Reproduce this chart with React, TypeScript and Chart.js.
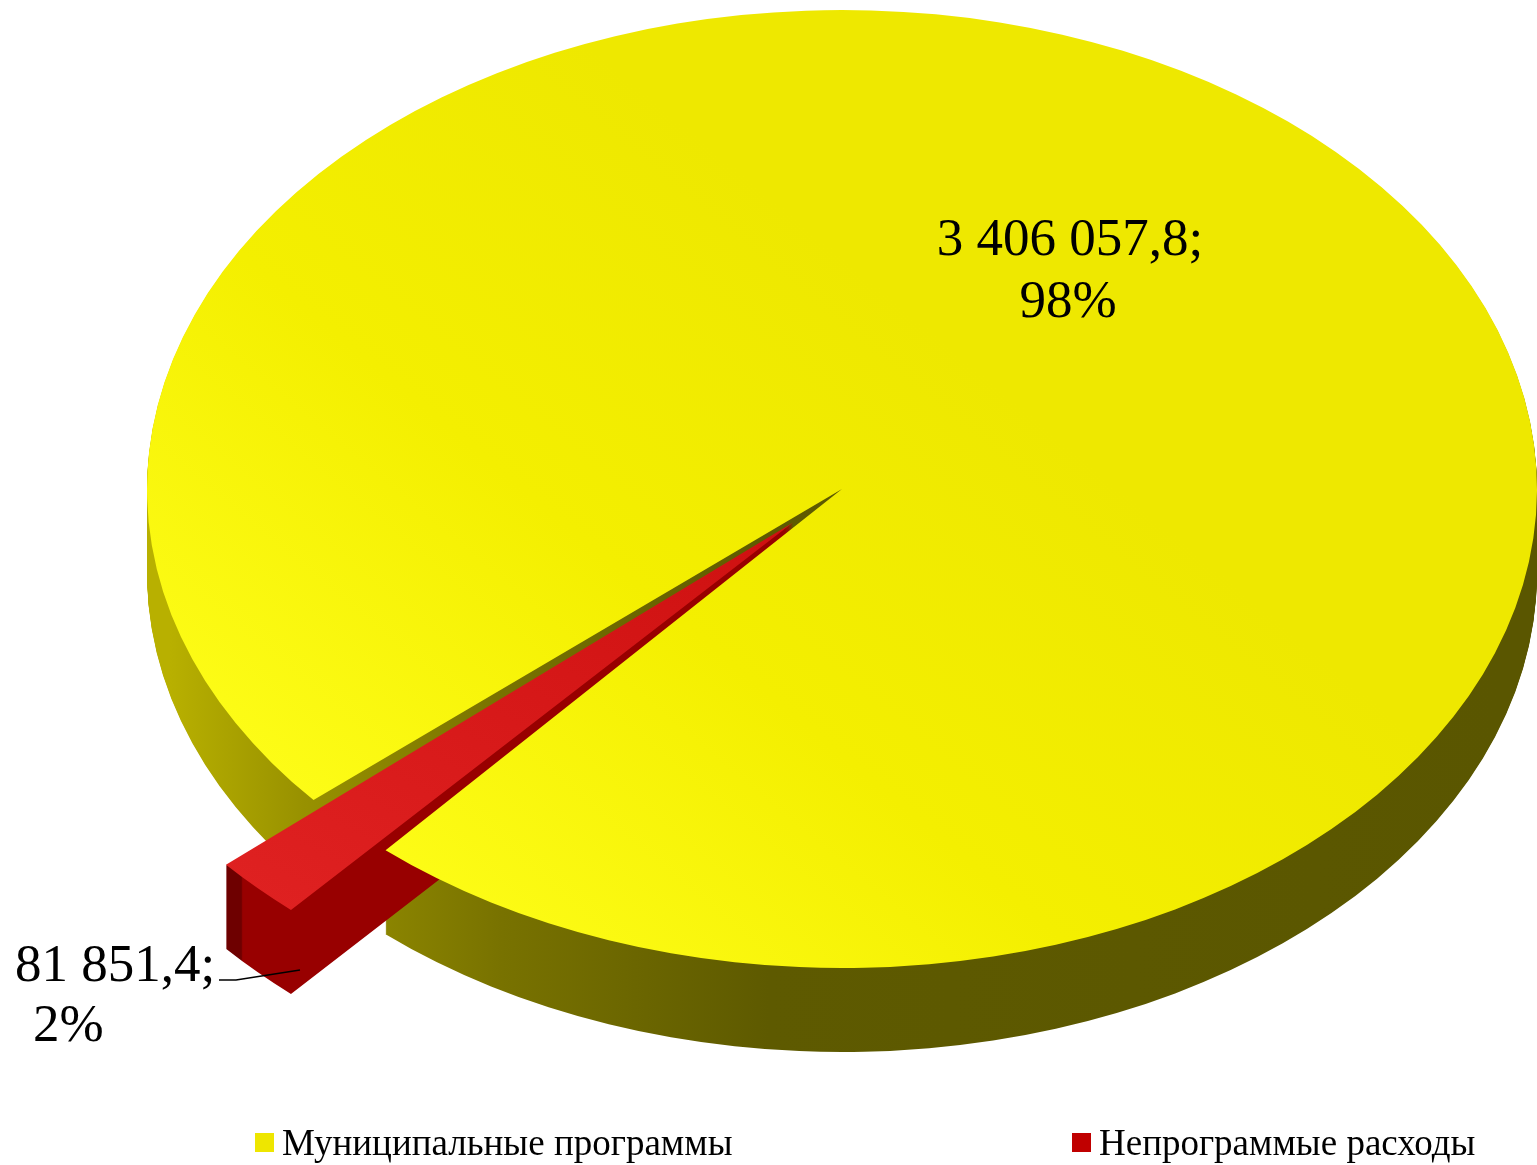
import React, { useEffect, useRef } from 'react';
import { Chart, registerables } from 'chart.js';

Chart.register(...registerables);

// ---- data ----
const categories = ['Муниципальные программы', 'Непрограммые расходы'];
const values = [3406057.8, 81851.4];
const legendColors = ['#eee600', '#c00000'];
const explodeOffsets = [0, 190];

// ---- layout / style constants ----
const W = 1537;
const H = 1165;
const PIE_CX = 842;
const PIE_CY = 489;
const RY = 479;
const RX = 695;
const SX = RX / RY;
const DEPTH = 84;
const ROTATION = -130.5;
const FONT = "'Times New Roman', 'Liberation Serif', serif";
const LABEL_FONT_SIZE = 53;
const LEGEND_FONT_SIZE = 37;
const LEGEND_X = [255, 1072];
const LEGEND_TOP = 1124;

const total = values.reduce((a, b) => a + b, 0);

function fmtValue(v: number): string {
  const [i, d] = v.toFixed(1).split('.');
  return i.replace(/\B(?=(\d{3})+(?!\d))/g, ' ') + ',' + d + ';';
}
function fmtPct(v: number): string {
  return Math.round((v / total) * 100) + '%';
}

const pie3d = {
  id: 'pie3d',
  beforeDatasetsDraw(chart: any) {
    const meta = chart.getDatasetMeta(0);
    const arcs = meta.data;
    if (!arcs.length) return;
    const ctx: CanvasRenderingContext2D = chart.ctx;
    const cx = arcs[0].x;
    const cy = arcs[0].y;
    const U = (x: number, y: number) => [cx + (x - PIE_CX) / SX, cy + (y - PIE_CY)];
    const lin = (x0: number, y0: number, x1: number, y1: number, stops: [number, string][]) => {
      const a = U(x0, y0);
      const b = U(x1, y1);
      const g = ctx.createLinearGradient(a[0], a[1], b[0], b[1]);
      stops.forEach(([o, c]) => g.addColorStop(o, c));
      return g;
    };
    const linUser = (x0: number, y0: number, x1: number, y1: number, stops: [number, string][]) => {
      const g = ctx.createLinearGradient(x0, y0, x1, y1);
      stops.forEach(([o, c]) => g.addColorStop(o, c));
      return g;
    };

    ctx.save();
    ctx.translate(PIE_CX, PIE_CY);
    ctx.scale(SX, 1);
    ctx.translate(-cx, -cy);

    const paint = (arc: any, fill: any, dy: number) => {
      const orig = arc.options;
      arc.options = new Proxy(orig, {
        get: (t: any, k: any) => (k === 'backgroundColor' ? fill : k === 'borderWidth' ? 0 : t[k]),
      });
      ctx.save();
      ctx.translate(0, dy);
      arc.draw(ctx);
      ctx.restore();
      arc.options = orig;
    };

    // corner x of the exploded slice (outer edge, clockwise-start side)
    const red = arcs[1];
    const o = (red.options.offset || 0) / 4;
    const half = (red.startAngle + red.endAngle) / 2;
    const fix = 1 - Math.sin(Math.min(Math.PI, red.circumference));
    const ro = o * fix;
    const R = red.outerRadius + ro;
    const alpha = red.endAngle - red.startAngle;
    const beta = Math.max(0.001, alpha * R - ro / Math.PI) / R;
    const sa = red.startAngle + (alpha - beta) / 2;
    const cornerX = red.x + Math.cos(half) * o + Math.cos(sa) * R;

    const sideFills = [
      lin(170, 0, 1500, 0, [
        [0, '#b8b000'],
        [0.1, '#989100'],
        [0.25, '#787200'],
        [0.45, '#5e5a00'],
        [1, '#5a5600'],
      ]),
      linUser(cornerX - 0.5, 0, cornerX + 0.5, 0, [
        [0, '#6e0000'],
        [1, '#980000'],
      ]),
    ];
    const topFills = [
      lin(260, 880, 1050, 430, [
        [0, '#ffff1c'],
        [0.55, '#f4ef00'],
        [1, '#eee800'],
      ]),
      lin(220, 860, 800, 380, [
        [0, '#e02222'],
        [1, '#cc0e0e'],
      ]),
    ];

    for (let i = 0; i < arcs.length; i++) {
      for (let d = DEPTH; d >= 1; d--) paint(arcs[i], sideFills[i], d);
    }
    for (let i = 0; i < arcs.length; i++) paint(arcs[i], topFills[i], 0);

    ctx.restore();
    return false;
  },
  afterDraw(chart: any) {
    const ctx: CanvasRenderingContext2D = chart.ctx;
    ctx.save();
    ctx.fillStyle = '#000';
    ctx.font = `${LABEL_FONT_SIZE}px ${FONT}`;
    ctx.textBaseline = 'alphabetic';
    // label for slice 0
    ctx.textAlign = 'center';
    ctx.fillText(fmtValue(values[0]), 1070, 255);
    ctx.fillText(fmtPct(values[0]), 1068, 317);
    // label for slice 1
    ctx.textAlign = 'left';
    ctx.fillText(fmtValue(values[1]), 15, 981);
    ctx.fillText(fmtPct(values[1]), 33, 1041);
    // leader line
    ctx.strokeStyle = '#000';
    ctx.lineWidth = 1.5;
    ctx.beginPath();
    ctx.moveTo(219, 980);
    ctx.lineTo(236, 980);
    ctx.lineTo(300, 970);
    ctx.stroke();
    ctx.restore();
  },
};

export default function App() {
  const canvasRef = useRef<HTMLCanvasElement>(null);

  useEffect(() => {
    document.body.style.margin = '0';
    document.body.style.overflow = 'hidden';
    const canvas = canvasRef.current;
    if (!canvas) return;
    const chart = new Chart(canvas, {
      type: 'pie',
      data: {
        labels: categories,
        datasets: [
          {
            data: values,
            backgroundColor: legendColors,
            borderWidth: 0,
            offset: explodeOffsets,
          },
        ],
      },
      options: {
        responsive: false,
        animation: false,
        events: [],
        rotation: ROTATION,
        radius: RY,
        layout: { padding: 0 },
        plugins: {
          legend: { display: false },
          tooltip: { enabled: false },
        },
      } as any,
      plugins: [pie3d],
    });
    return () => chart.destroy();
  }, []);

  return (
    <div style={{ position: 'relative', width: W, height: H, background: '#fff', overflow: 'hidden' }}>
      <canvas ref={canvasRef} width={W} height={H} style={{ position: 'absolute', left: 0, top: 0 }} />
      {categories.map((c, i) => (
        <div
          key={c}
          style={{
            position: 'absolute',
            left: LEGEND_X[i],
            top: LEGEND_TOP,
            height: LEGEND_FONT_SIZE,
            display: 'flex',
            alignItems: 'center',
            fontFamily: FONT,
            fontSize: LEGEND_FONT_SIZE,
            lineHeight: `${LEGEND_FONT_SIZE}px`,
            whiteSpace: 'nowrap',
            color: '#000',
          }}
        >
          <span
            style={{
              display: 'inline-block',
              width: 19,
              height: 19,
              background: legendColors[i],
              marginRight: 8,
            }}
          />
          {c}
        </div>
      ))}
    </div>
  );
}
